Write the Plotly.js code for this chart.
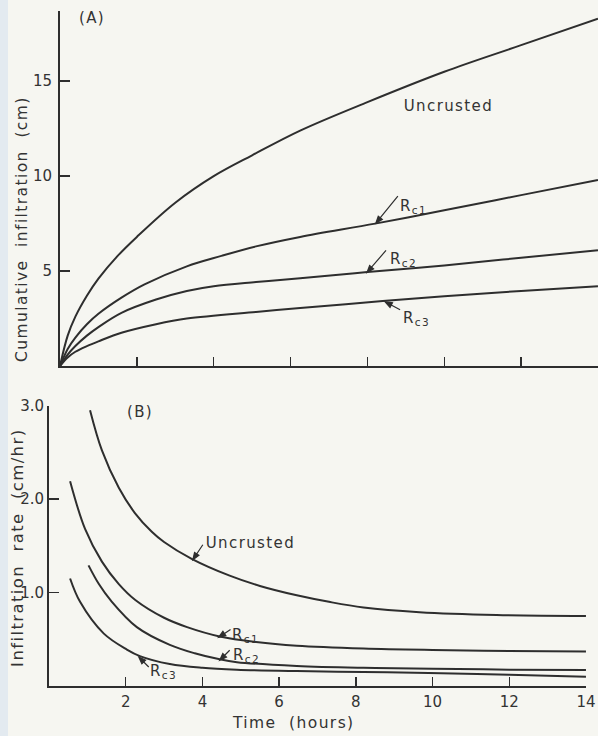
<!DOCTYPE html>
<html>
<head>
<meta charset="utf-8">
<script src="https://cdn.plot.ly/plotly-3.0.1.min.js"></script>
<style>
html, body { margin: 0; padding: 0; background: #f6f6f1; }
#chart .annotation-text { letter-spacing: 1.4px; }
</style>
</head>
<body>
<div id="chart" style="width:598px;height:736px"></div>
<script>
// ---------- Panel (A): cumulative infiltration (cm) vs time (hours) ----------
const tAUncrusted = [0, 0.2, 0.4, 0.7, 1, 1.5, 2, 3, 4, 5, 6.25, 8, 10, 12, 14];
const cumUncrusted = [0, 1.6, 2.6, 3.7, 4.6, 5.8, 6.8, 8.6, 10.0, 11.1, 12.4, 13.9, 15.5, 16.9, 18.3];

const tARc1 = [0, 0.2, 0.4, 0.7, 1, 1.6, 2.2, 3.3, 4.2, 5.1, 6.25, 8.2, 10, 12, 14];
const cumRc1 = [0, 0.9, 1.5, 2.2, 2.75, 3.6, 4.3, 5.25, 5.8, 6.3, 6.8, 7.5, 8.2, 9.0, 9.8];

const tARc2 = [0, 0.2, 0.4, 0.7, 1, 1.6, 2.5, 3.3, 4, 5.1, 6.25, 8, 10, 12, 14];
const cumRc2 = [0, 0.6, 1.05, 1.6, 2.05, 2.8, 3.5, 3.95, 4.2, 4.42, 4.62, 4.95, 5.3, 5.7, 6.1];

const tARc3 = [0, 0.2, 0.4, 0.7, 1, 1.6, 2.5, 3.3, 5.1, 6.25, 8.4, 10, 12, 14];
const cumRc3 = [0, 0.45, 0.75, 1.05, 1.3, 1.75, 2.2, 2.5, 2.85, 3.05, 3.42, 3.68, 3.95, 4.2];

// ---------- Panel (B): infiltration rate (cm/hr) vs time (hours) ----------
const tBUncrusted = [1.07, 1.38, 1.82, 2.24, 2.68, 3.0, 3.72, 4.71, 5.5, 6.46, 7.3, 8.2, 9.66, 11.67, 14];
const rateUncrusted = [2.95, 2.52, 2.12, 1.85, 1.65, 1.54, 1.36, 1.18, 1.07, 0.97, 0.9, 0.84, 0.79, 0.76, 0.75];

const tBRc1 = [0.55, 0.94, 1.38, 1.82, 2.25, 3.0, 3.6, 4.45, 5.4, 6.46, 8.2, 10, 12, 14];
const rateRc1 = [2.19, 1.68, 1.33, 1.09, 0.92, 0.73, 0.63, 0.53, 0.47, 0.43, 0.40, 0.385, 0.375, 0.37];

const tBRc2 = [1.03, 1.3, 1.62, 2.29, 3.15, 3.8, 4.45, 4.9, 6.46, 8.2, 10, 12, 14];
const rateRc2 = [1.29, 1.09, 0.91, 0.63, 0.44, 0.35, 0.285, 0.255, 0.215, 0.195, 0.185, 0.175, 0.17];

const tBRc3 = [0.55, 0.81, 1.43, 2.03, 2.37, 3.15, 4.0, 4.9, 6.46, 8.2, 9.9, 12, 14];
const rateRc3 = [1.15, 0.9, 0.56, 0.39, 0.32, 0.235, 0.195, 0.175, 0.16, 0.15, 0.14, 0.12, 0.10];

// ---------- tick labels ----------
const timeTicks = [2, 4, 6, 8, 10, 12, 14];
const timeTickText = ['2', '4', '6', '8', '10', '12', '14'];
const cumTicks = [5, 10, 15];
const cumTickText = ['5', '10', '15'];
const rateTicks = [1, 2, 3];
const rateTickText = ['1.0', '2.0', '3.0'];

const INK = '#2e2e2e';

function curve(x, y, xa, ya) {
  return {
    x: x, y: y, xaxis: xa, yaxis: ya, type: 'scatter', mode: 'lines',
    line: { color: INK, width: 2, shape: 'spline', smoothing: 1.0 },
    hoverinfo: 'skip'
  };
}

const data = [
  curve(tAUncrusted, cumUncrusted, 'x', 'y'),
  curve(tARc1, cumRc1, 'x', 'y'),
  curve(tARc2, cumRc2, 'x', 'y'),
  curve(tARc3, cumRc3, 'x', 'y'),
  curve(tBUncrusted, rateUncrusted, 'x2', 'y2'),
  curve(tBRc1, rateRc1, 'x2', 'y2'),
  curve(tBRc2, rateRc2, 'x2', 'y2'),
  curve(tBRc3, rateRc3, 'x2', 'y2')
];

const axisCommon = {
  showline: true, linewidth: 2, linecolor: INK,
  ticks: 'inside', tickwidth: 1.5, tickcolor: INK,
  showgrid: false, zeroline: false, fixedrange: true,
  ticklabeloverflow: 'allow',
  tickfont: { family: 'DejaVu Sans, sans-serif', size: 15, color: '#333' }
};

function label(text, x, y, xr, yr, size) {
  return { text: text, x: x, y: y, xref: xr, yref: yr, showarrow: false,
    xanchor: 'center', yanchor: 'middle',
    font: { family: 'DejaVu Sans, sans-serif', size: size || 15, color: '#333' } };
}

// Leader arrow: head at (tx, ty) in data coords, tail offset (dx, dy) in pixels (up = +)
function arrowShape(tx, ty, dx, dy, xr, yr) {
  const L = Math.hypot(dx, dy), ux = dx / L, uy = dy / L;
  const hl = 7, hw = 2.6;
  const bx = ux * hl, by = uy * hl;
  const p1x = bx - uy * hw, p1y = by + ux * hw;
  const p2x = bx + uy * hw, p2y = by - ux * hw;
  return {
    type: 'path', xref: xr, yref: yr, xsizemode: 'pixel', ysizemode: 'pixel',
    xanchor: tx, yanchor: ty,
    path: 'M' + dx + ',' + dy + 'L0,0M0,0L' + p1x.toFixed(2) + ',' + p1y.toFixed(2) +
          'L' + p2x.toFixed(2) + ',' + p2y.toFixed(2) + 'Z',
    line: { color: INK, width: 1.2 }, fillcolor: INK, layer: 'above'
  };
}

const annotations = [
  // Panel A
  label('(A)', 0.83, 18.33, 'x', 'y'),
  label('Uncrusted', 10.12, 13.71, 'x', 'y'),
  label('R<sub>c1</sub>', 9.19, 8.39, 'x', 'y'),
  label('R<sub>c2</sub>', 8.93, 5.6, 'x', 'y'),
  label('R<sub>c3</sub>', 9.29, 2.49, 'x', 'y'),
  // Panel B
  label('(B)', 2.37, 2.93, 'x2', 'y2'),
  label('Uncrusted', 5.26, 1.53, 'x2', 'y2'),
  label('R<sub>c1</sub>', 5.13, 0.545, 'x2', 'y2'),
  label('R<sub>c2</sub>', 5.15, 0.33, 'x2', 'y2'),
  label('R<sub>c3</sub>', 2.99, 0.15, 'x2', 'y2'),
  // Axis titles
  Object.assign(label('Cumulative  infiltration  (cm)', 22 / 598, 1 - 229 / 736, 'paper', 'paper', 15.5), { textangle: -90 }),
  Object.assign(label('Infiltration  rate  (cm/hr)', 17 / 598, 1 - 548 / 736, 'paper', 'paper', 16.5), { textangle: -90 }),
  label('Time  (hours)', 293 / 598, 1 - 723 / 736, 'paper', 'paper', 15.5)
];

const shapes = [
  { type: 'rect', xref: 'paper', yref: 'paper', x0: 0, x1: 8 / 598, y0: 0, y1: 1,
    fillcolor: '#e3eaf0', line: { width: 0 }, layer: 'below' },
  // Panel A leader arrows
  arrowShape(8.22, 7.52, 22, 27, 'x', 'y'),
  arrowShape(7.99, 4.93, 19, 22, 'x', 'y'),
  arrowShape(8.46, 3.38, 15, -8, 'x', 'y'),
  // Panel B leader arrows
  arrowShape(3.75, 1.35, 10, 15, 'x2', 'y2'),
  arrowShape(4.42, 0.52, 12, 8, 'x2', 'y2'),
  arrowShape(4.45, 0.275, 10, 10, 'x2', 'y2'),
  arrowShape(2.34, 0.31, 10, -10, 'x2', 'y2')
];

const layout = {
  width: 598, height: 736,
  margin: { l: 0, r: 0, t: 0, b: 0 },
  paper_bgcolor: '#f6f6f1', plot_bgcolor: 'rgba(0,0,0,0)',
  showlegend: false,
  font: { family: 'DejaVu Sans, sans-serif', color: '#333', size: 15 },
  xaxis: Object.assign({}, axisCommon, {
    domain: [60 / 598, 1.0], range: [0, 14.001], anchor: 'y',
    tickvals: timeTicks, ticklen: 9, showticklabels: false
  }),
  yaxis: Object.assign({}, axisCommon, {
    domain: [1 - 366 / 736, 1 - 11 / 736], range: [0, 18.7], anchor: 'x',
    tickvals: cumTicks, ticktext: cumTickText, ticklen: 10, ticklabelstandoff: 3
  }),
  xaxis2: Object.assign({}, axisCommon, {
    domain: [49 / 598, 586 / 598], range: [0, 14.001], anchor: 'y2',
    tickvals: timeTicks, ticktext: timeTickText, ticklen: 9, ticklabelstandoff: 1
  }),
  yaxis2: Object.assign({}, axisCommon, {
    domain: [1 - 686 / 736, 1 - 405.5 / 736], range: [0, 3.0], anchor: 'x2',
    tickvals: rateTicks, ticktext: rateTickText, ticklen: 10, ticklabelstandoff: 0
  }),
  shapes: shapes,
  annotations: annotations
};

Plotly.newPlot('chart', data, layout, { staticPlot: true, displayModeBar: false });
</script>
</body>
</html>
